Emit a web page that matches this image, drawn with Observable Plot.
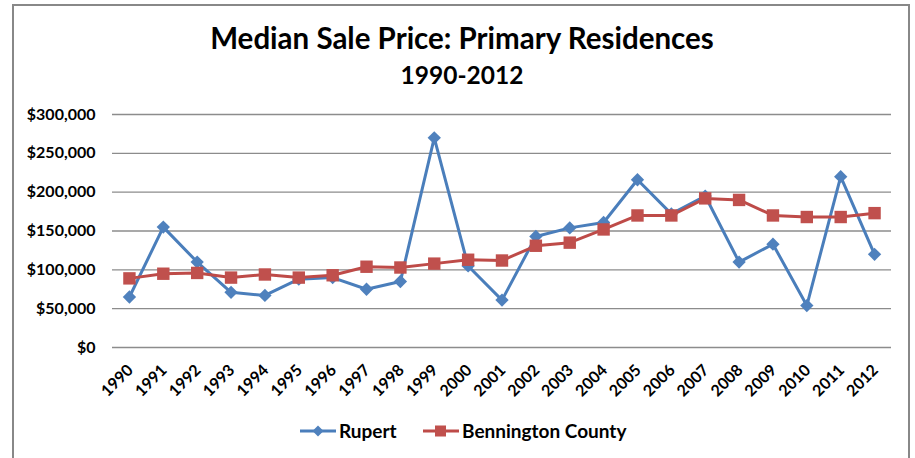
<!DOCTYPE html>
<html>
<head>
<meta charset="utf-8">
<script src="https://cdn.jsdelivr.net/npm/d3@7"></script>
<script src="https://cdn.jsdelivr.net/npm/@observablehq/plot@0.6"></script>
<style>
  html, body { margin: 0; padding: 0; background: #fff; }
  body { width: 915px; height: 458px; position: relative; overflow: hidden; font-family: Lato, "Open Sans", sans-serif; }
  #frame { position: absolute; left: 12px; top: 4px; width: 894px; height: 470px; border: 2px solid #888; box-sizing: content-box; }
  .title { position: absolute; left: 0; width: 924px; text-align: center; font-weight: bold; color: #000; white-space: nowrap; }
  #chart { position: absolute; left: 0; top: 95px; }
  .leg { position: absolute; font-weight: bold; font-size: 19px; color: #000; white-space: nowrap; line-height: 20px; }
  .sw { position: absolute; }
</style>
</head>
<body>
<div id="frame"></div>
<div class="title" id="t1" style="top:21px;font-size:29.5px;line-height:34px;">Median Sale Price: Primary Residences</div>
<div class="title" id="t2" style="top:60px;font-size:24.5px;line-height:30px;">1990-2012</div>
<div id="chart"></div>
<div id="legend"></div>
<script>
const years = ["1990","1991","1992","1993","1994","1995","1996","1997","1998","1999","2000","2001","2002","2003","2004","2005","2006","2007","2008","2009","2010","2011","2012"];
const rupert = [65000,155000,110000,71000,67000,88000,90000,75000,85000,270000,105000,61000,143000,154000,161000,216000,172000,195000,110000,133000,54000,220000,120000];
const bennington = [89000,95000,96000,90000,94000,90000,93000,104000,103000,108000,113000,112000,131000,135000,152000,170000,170000,192000,190000,170000,168000,168000,173000];
const yTicks = [0,50000,100000,150000,200000,250000,300000];
const seriesNames = ["Rupert","Bennington County"];
const lineColors = ["#4A7EBB","#BE4B48"];
const markColors = ["#4F81BD","#C0504D"];

const yearNums = years.map(Number);
const rData = years.map((y,i)=>({year:+y, value:rupert[i]}));
const bData = years.map((y,i)=>({year:+y, value:bennington[i]}));
const fmt = d3.format(",");

const chart = Plot.plot({
  width: 915,
  height: 310,
  marginLeft: 112,
  marginRight: 24,
  marginTop: 19,
  marginBottom: 58,
  style: {fontFamily: "Lato, 'Open Sans', sans-serif", fontWeight: "bold", fontSize: "15px", color: "#000", background: "transparent", overflow: "visible"},
  x: {type: "linear", domain: [yearNums[0] - 0.5, yearNums[yearNums.length-1] + 0.5], label: null},
  y: {domain: [0,300000], label: null},
  marks: [
    Plot.ruleY(yTicks, {stroke: "#8c8c8c", strokeWidth: 1.3}),
    Plot.axisY(yTicks, {tickSize: 0, tickPadding: 17, tickFormat: d => "$" + fmt(d), fontSize: 16, label: null}),
    Plot.axisX(yearNums, {tickRotate: -45, tickSize: 0, tickPadding: 20, dx: 1, fontSize: 16, tickFormat: d => String(d), label: null}),
    Plot.line(rData, {x: "year", y: "value", stroke: lineColors[0], strokeWidth: 3}),
    Plot.dot(rData, {x: "year", y: "value", symbol: "diamond2", fill: markColors[0], stroke: null, r: 6}),
    Plot.line(bData, {x: "year", y: "value", stroke: lineColors[1], strokeWidth: 3}),
    Plot.dot(bData, {x: "year", y: "value", symbol: "square", fill: markColors[1], stroke: null, r: 7})
  ]
});
document.getElementById("chart").appendChild(chart);

// legend
const legend = document.getElementById("legend");
const legItems = [
  {name: seriesNames[0], line: lineColors[0], mark: markColors[0], sym: "diamond", swX: 299, txX: 339},
  {name: seriesNames[1], line: lineColors[1], mark: markColors[1], sym: "square", swX: 422, txX: 462}
];
legItems.forEach(it => {
  const svg = d3.create("svg").attr("class","sw").attr("width",38).attr("height",16)
    .style("left", it.swX + "px").style("top", "423px");
  svg.append("line").attr("x1",1).attr("x2",37).attr("y1",8).attr("y2",8).attr("stroke",it.line).attr("stroke-width",3);
  if (it.sym === "diamond") {
    svg.append("path").attr("d","M19,2.5L24.5,8L19,13.5L13.5,8Z").attr("fill",it.mark);
  } else {
    svg.append("rect").attr("x",13).attr("y",2.5).attr("width",11).attr("height",11).attr("fill",it.mark);
  }
  legend.appendChild(svg.node());
  const span = document.createElement("div");
  span.className = "leg";
  span.textContent = it.name;
  span.style.left = it.txX + "px";
  span.style.top = "421px";
  legend.appendChild(span);
});
</script>
</body>
</html>
